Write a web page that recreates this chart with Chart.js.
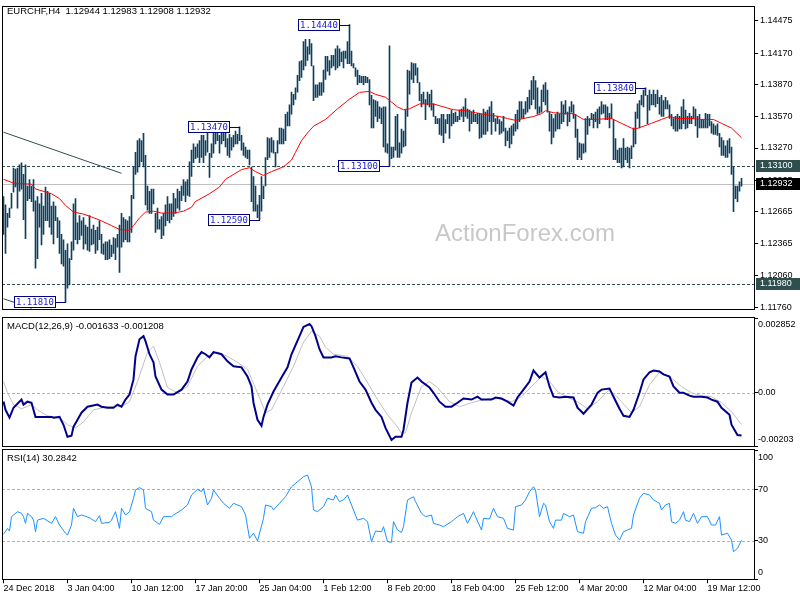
<!DOCTYPE html>
<html>
<head>
<meta charset="utf-8">
<script src="https://cdn.jsdelivr.net/npm/chart.js@4.4.0/dist/chart.umd.min.js"></script>
<style>
  body { margin: 0; background: #fff; }
  #wrap { position: relative; width: 800px; height: 600px; overflow: hidden; }
  canvas { position: absolute; left: 0; }
</style>
</head>
<body>
<div id="wrap">
  <canvas id="price" width="800" height="317" style="top:0"></canvas>
  <canvas id="macd" width="800" height="133" style="top:315px"></canvas>
  <canvas id="rsi" width="800" height="153" style="top:447px"></canvas>
</div>
<script>
// ---- data (EURCHF H4, bar index 0 = 24 Dec 2018 00:00) ----
const highs = [
  1.1281,1.1273,1.1265,1.1270,1.1284,1.1308,1.1307,1.1308,1.1311,1.1313,
  1.1302,1.1311,1.1291,1.1297,1.1291,1.1297,1.1277,1.1281,1.1274,1.1284,
  1.1272,1.1290,1.1286,1.1284,1.1272,1.1276,1.1272,1.1261,1.1258,1.1245,
  1.1240,1.1230,1.1236,1.1222,1.1238,1.1274,1.1279,1.1256,1.1263,1.1258,
  1.1261,1.1254,1.1252,1.1263,1.1250,1.1254,1.1249,1.1252,1.1258,1.1245,
  1.1236,1.1238,1.1238,1.1240,1.1235,1.1242,1.1241,1.1245,1.1254,1.1265,
  1.1261,1.1259,1.1258,1.1262,1.1282,1.1309,1.1323,1.1334,1.1336,1.1334,
  1.1341,1.1320,1.1291,1.1286,1.1288,1.1288,1.1265,1.1270,1.1259,1.1262,
  1.1265,1.1273,1.1281,1.1274,1.1274,1.1284,1.1279,1.1288,1.1286,1.1291,
  1.1297,1.1295,1.1297,1.1314,1.1325,1.1331,1.1328,1.1331,1.1334,1.1339,
  1.1339,1.1334,1.1341,1.1322,1.1331,1.1348,1.1343,1.1346,1.1339,1.1346,
  1.1348,1.1346,1.1336,1.1340,1.1337,1.1339,1.1343,1.1340,1.1347,1.1339,
  1.1332,1.1328,1.1325,1.1325,1.1309,1.1300,1.1291,1.1273,1.1282,1.1300,
  1.1291,1.1318,1.1337,1.1336,1.1337,1.1334,1.1323,1.1334,1.1346,1.1346,
  1.1345,1.1359,1.1361,1.1368,1.1380,1.1378,1.1384,1.1396,1.1409,1.1410,
  1.1428,1.1430,1.1423,1.1430,1.1426,1.1405,1.1387,1.1387,1.1389,1.1389,
  1.1401,1.1414,1.1414,1.1410,1.1415,1.1415,1.1421,1.1424,1.1421,1.1418,
  1.1419,1.1419,1.1428,1.1444,1.1419,1.1407,1.1403,1.1401,1.1396,1.1395,
  1.1395,1.1395,1.1394,1.1392,1.1377,1.1373,1.1372,1.1371,1.1366,1.1365,
  1.1366,1.1366,1.1331,1.1424,1.1328,1.1328,1.1357,1.1359,1.1332,1.1345,
  1.1343,1.1363,1.1401,1.1400,1.1408,1.1407,1.1407,1.1403,1.1389,1.1378,
  1.1380,1.1373,1.1380,1.1378,1.1382,1.1369,1.1357,1.1355,1.1355,1.1359,
  1.1359,1.1354,1.1359,1.1359,1.1363,1.1360,1.1361,1.1357,1.1363,1.1364,
  1.1366,1.1374,1.1364,1.1363,1.1361,1.1363,1.1359,1.1360,1.1360,1.1359,
  1.1364,1.1361,1.1363,1.1366,1.1371,1.1360,1.1355,1.1357,1.1354,1.1352,
  1.1357,1.1346,1.1343,1.1346,1.1348,1.1350,1.1359,1.1363,1.1371,1.1371,
  1.1364,1.1371,1.1375,1.1382,1.1391,1.1395,1.1391,1.1384,1.1366,1.1382,
  1.1387,1.1389,1.1382,1.1361,1.1359,1.1355,1.1359,1.1361,1.1359,1.1371,
  1.1368,1.1372,1.1361,1.1366,1.1371,1.1368,1.1359,1.1345,1.1332,1.1331,
  1.1331,1.1355,1.1357,1.1355,1.1360,1.1359,1.1361,1.1364,1.1366,1.1371,
  1.1368,1.1368,1.1366,1.1360,1.1369,1.1354,1.1336,1.1325,1.1327,1.1327,
  1.1336,1.1327,1.1328,1.1327,1.1329,1.1346,1.1361,1.1369,1.1372,1.1377,
  1.1382,1.1384,1.1377,1.1382,1.1378,1.1382,1.1378,1.1382,1.1375,1.1377,
  1.1372,1.1375,1.1372,1.1368,1.1359,1.1355,1.1357,1.1359,1.1357,1.1366,
  1.1373,1.1363,1.1357,1.1360,1.1357,1.1366,1.1364,1.1357,1.1359,1.1354,
  1.1354,1.1360,1.1359,1.1359,1.1352,1.1350,1.1348,1.1350,1.1341,1.1337,
  1.1334,1.1329,1.1334,1.1336,1.1328,1.1309,1.1291,1.1291,1.1295,1.12983
];
const lows = [
  1.1245,1.1227,1.1252,1.1261,1.1270,1.1285,1.1290,1.1270,1.1286,1.1288,
  1.1259,1.1241,1.1277,1.1279,1.1276,1.1267,1.1213,1.1222,1.1252,1.1235,
  1.1245,1.1258,1.1258,1.1252,1.1245,1.1236,1.1258,1.1242,1.1227,1.1217,
  1.1215,1.1181,1.1194,1.1197,1.1221,1.1230,1.1240,1.1236,1.1240,1.1244,
  1.1231,1.1236,1.1230,1.1229,1.1235,1.1236,1.1227,1.1230,1.1240,1.1227,
  1.1226,1.1221,1.1221,1.1222,1.1224,1.1227,1.1221,1.1233,1.1209,1.1233,
  1.1238,1.1240,1.1238,1.1238,1.1247,1.1279,1.1302,1.1304,1.1309,1.1314,
  1.1309,1.1273,1.1268,1.1265,1.1265,1.1274,1.1247,1.1250,1.1250,1.1241,
  1.1244,1.1253,1.1258,1.1256,1.1259,1.1262,1.1265,1.1270,1.1268,1.1277,
  1.1282,1.1276,1.1282,1.1281,1.1300,1.1313,1.1317,1.1318,1.1313,1.1318,
  1.1313,1.1320,1.1323,1.1299,1.1318,1.1322,1.1331,1.1334,1.1322,1.1331,
  1.1334,1.1328,1.1320,1.1318,1.1325,1.1328,1.1331,1.1331,1.1334,1.1325,
  1.1320,1.1318,1.1317,1.1311,1.1276,1.1267,1.1267,1.1261,1.1259,1.1267,
  1.1279,1.1291,1.1316,1.1318,1.1323,1.1322,1.1309,1.1322,1.1331,1.1331,
  1.1331,1.1334,1.1348,1.1348,1.1359,1.1368,1.1373,1.1380,1.1391,1.1394,
  1.1401,1.1405,1.1410,1.1416,1.1405,1.1372,1.1375,1.1375,1.1377,1.1377,
  1.1380,1.1392,1.1400,1.1396,1.1403,1.1405,1.1401,1.1403,1.1405,1.1409,
  1.1403,1.1412,1.1407,1.1407,1.1405,1.1403,1.1395,1.1387,1.1389,1.1389,
  1.1387,1.1389,1.1389,1.1368,1.1346,1.1346,1.1357,1.1352,1.1355,1.1350,
  1.1328,1.1323,1.1322,1.1310,1.1317,1.1318,1.1325,1.1318,1.1318,1.1322,
  1.1328,1.1329,1.1357,1.1378,1.1392,1.1389,1.1396,1.1389,1.1372,1.1366,
  1.1369,1.1354,1.1368,1.1366,1.1363,1.1357,1.1350,1.1350,1.1340,1.1339,
  1.1332,1.1341,1.1350,1.1336,1.1348,1.1350,1.1352,1.1352,1.1354,1.1357,
  1.1352,1.1357,1.1355,1.1343,1.1350,1.1352,1.1352,1.1350,1.1336,1.1337,
  1.1340,1.1340,1.1343,1.1352,1.1340,1.1352,1.1343,1.1350,1.1340,1.1341,
  1.1343,1.1329,1.1334,1.1327,1.1331,1.1339,1.1343,1.1345,1.1352,1.1355,
  1.1355,1.1359,1.1361,1.1364,1.1368,1.1373,1.1364,1.1359,1.1360,1.1361,
  1.1371,1.1368,1.1361,1.1343,1.1331,1.1337,1.1343,1.1345,1.1345,1.1350,
  1.1352,1.1359,1.1348,1.1352,1.1361,1.1355,1.1337,1.1316,1.1318,1.1316,
  1.1322,1.1323,1.1340,1.1348,1.1354,1.1346,1.1352,1.1346,1.1350,1.1359,
  1.1360,1.1354,1.1354,1.1346,1.1355,1.1316,1.1316,1.1313,1.1313,1.1308,
  1.1309,1.1316,1.1313,1.1308,1.1317,1.1328,1.1331,1.1355,1.1346,1.1368,
  1.1366,1.1377,1.1350,1.1363,1.1368,1.1368,1.1366,1.1369,1.1359,1.1357,
  1.1357,1.1364,1.1364,1.1355,1.1348,1.1345,1.1343,1.1343,1.1345,1.1345,
  1.1350,1.1345,1.1346,1.1350,1.1350,1.1355,1.1348,1.1337,1.1346,1.1346,
  1.1346,1.1346,1.1346,1.1348,1.1341,1.1340,1.1340,1.1339,1.1328,1.1320,
  1.1320,1.1318,1.1318,1.1322,1.1302,1.12665,1.1279,1.1276,1.1286,1.12908
];
// moving average, [bar, value]
const maLine = [
  [0,1.12973],[5,1.12937],[14,1.12927],[16,1.12882],[24,1.12836],[28,1.12790],[31,1.12726],[35,1.12662],
  [40,1.12643],[44,1.12616],[49,1.12579],[54,1.12534],[58,1.12497],[63,1.12488],[65,1.12534],[68,1.12607],
  [71,1.12662],[75,1.12671],[79,1.12653],[85,1.12653],[90,1.12671],[94,1.12708],[96,1.12763],[103,1.12836],
  [108,1.12900],[111,1.12973],[115,1.13019],[119,1.13065],[123,1.13083],[126,1.13046],[130,1.13010],[134,1.13046],
  [140,1.13092],[144,1.13156],[146,1.13230],[149,1.13340],[152,1.13413],[155,1.13477],[161,1.13541],[167,1.13642],
  [173,1.13733],[178,1.13798],[183,1.13807],[186,1.13779],[191,1.13752],[194,1.13706],[197,1.13660],[200,1.13633],
  [203,1.13642],[208,1.13688],[215,1.13688],[220,1.13660],[225,1.13633],[231,1.13624],[236,1.13605],[241,1.13587],
  [248,1.13569],[252,1.13550],[256,1.13532],[260,1.13550],[265,1.13569],[269,1.13596],[271,1.13624],[275,1.13605],
  [280,1.13596],[285,1.13596],[290,1.13541],[295,1.13541],[304,1.13550],[309,1.13504],[314,1.13459],[316,1.13450],
  [320,1.13477],[324,1.13504],[329,1.13541],[333,1.13569],[337,1.13550],[344,1.13550],[349,1.13541],[355,1.13541],
  [359,1.13504],[364,1.13459],[369,1.13367]
];
const trendUpper = [[0,1.1342],[59,1.1303]];
const trendLower = [[0,1.1184],[14,1.1175]];
const priceTicks = [1.14475,1.14170,1.13870,1.13570,1.13270,1.12965,1.12665,1.12365,1.12060,1.11760];
const levelPrices = [1.13100, 1.11980];
const lastPrice = 1.12932;
const markerBars = [173, 118, 193, 128, 31, 321];
const markerPrices = [1.14440, 1.13470, 1.13100, 1.12590, 1.11810, 1.13840];

const macdMain = [
  [0,-0.00033],[1,-0.00065],[3,-0.00095],[5,-0.00057],[9,-0.00026],[10,-0.00045],[12,-0.00034],[14,-0.00038],
  [16,-0.00092],[19,-0.00092],[24,-0.00092],[25,-0.00095],[28,-0.00092],[30,-0.00122],[32,-0.00168],[34,-0.00164],
  [35,-0.00130],[39,-0.00076],[42,-0.00053],[47,-0.00045],[49,-0.00053],[52,-0.00057],[55,-0.00057],[57,-0.00045],
  [59,-0.00053],[61,-0.00026],[63,-0.00007],[65,0.00051],[66,0.00139],[68,0.00204],[70,0.00216],[71,0.00197],
  [73,0.00147],[75,0.00116],[76,0.00062],[79,0.00012],[82,-0.00007],[85,-0.00007],[89,0.00012],[92,0.00043],
  [94,0.00089],[97,0.00135],[99,0.00155],[101,0.00147],[103,0.00135],[105,0.00155],[109,0.00147],[112,0.00120],
  [115,0.00101],[119,0.00097],[122,0.00062],[124,0.00024],[125,-0.00038],[127,-0.00103],[129,-0.00126],[130,-0.00092],
  [132,-0.00045],[135,0.00005],[139,0.00058],[142,0.00097],[144,0.00147],[148,0.00216],[150,0.00251],[153,0.00262],
  [154,0.00254],[156,0.00216],[158,0.00166],[160,0.00135],[164,0.00135],[166,0.00139],[169,0.00135],[173,0.00131],
  [175,0.00097],[178,0.00043],[181,0.00012],[184,-0.00038],[186,-0.00065],[189,-0.00092],[191,-0.00134],[194,-0.00180],
  [196,-0.00168],[199,-0.00168],[200,-0.00141],[202,-0.00038],[204,0.00039],[207,0.00058],[209,0.00043],[213,0.00020],
  [215,0],[218,-0.00034],[221,-0.00053],[224,-0.00053],[227,-0.00038],[230,-0.00022],[234,-0.00026],[237,-0.00015],
  [239,-0.00026],[244,-0.00026],[246,-0.00018],[249,-0.00022],[252,-0.00034],[255,-0.00049],[257,-0.00018],[260,0.00012],
  [263,0.00043],[265,0.00085],[268,0.00058],[271,0.00078],[273,0.00024],[275,-0.00015],[278,-0.00018],[281,-0.00015],
  [285,-0.00018],[287,-0.00057],[290,-0.00080],[294,-0.00045],[297,0],[299,0.00012],[303,0.00016],[305,-0.00015],
  [308,-0.00061],[310,-0.00088],[313,-0.00092],[315,-0.00065],[318,0],[320,0.00051],[323,0.00078],[325,0.00085],
  [328,0.00081],[330,0.00070],[333,0.00062],[335,0.00024],[338,0],[340,0],[343,-0.00011],[345,-0.00015],
  [349,-0.00015],[352,-0.00018],[354,-0.00026],[357,-0.00034],[359,-0.00057],[363,-0.00084],[364,-0.00122],[367,-0.00161],
  [369,-0.001633]
];
const macdSignal = [
  [0,0.00043],[2,0],[5,-0.00045],[9,-0.00061],[14,-0.00045],[17,-0.00065],[22,-0.00088],[28,-0.00095],
  [32,-0.00122],[36,-0.00134],[40,-0.00111],[45,-0.00065],[52,-0.00053],[59,-0.00053],[63,-0.00034],[67,0.00043],
  [72,0.00155],[75,0.00178],[78,0.00116],[82,0.00020],[87,0],[92,0.00024],[97,0.00101],[102,0.00139],
  [107,0.00155],[112,0.00139],[117,0.00116],[122,0.00089],[127,0],[131,-0.00076],[134,-0.00065],[140,0.00024],
  [145,0.00101],[150,0.00193],[154,0.00235],[158,0.00216],[161,0.00174],[165,0.00147],[172,0.00139],[177,0.00101],
  [182,0.00039],[187,-0.00026],[192,-0.00084],[197,-0.00130],[199,-0.00155],[201,-0.00153],[204,-0.00076],[209,0.00024],
  [213,0.00043],[217,0.00020],[223,-0.00034],[228,-0.00053],[234,-0.00038],[240,-0.00026],[247,-0.00022],[254,-0.00034],
  [259,-0.00015],[264,0.00024],[269,0.00062],[273,0.00043],[277,0.00005],[282,-0.00018],[287,-0.00034],[292,-0.00061],
  [297,-0.00034],[303,0.00012],[309,-0.00034],[314,-0.00076],[318,-0.00053],[323,0.00031],[328,0.00078],[333,0.00062],
  [339,0.00024],[344,0],[349,-0.00011],[354,-0.00015],[359,-0.00038],[364,-0.00072],[369,-0.001208]
];
const macdTicks = [0.002852, 0, -0.00203];

const rsiLine = [
  [0,35],[2,39.6],[3,37.5],[4,48.7],[7,52.6],[9,51.3],[10,48.7],[11,43.5],[12,51.3],[14,48.7],[15,46],[16,37],
  [17,46],[20,47.4],[24,43.5],[26,48.7],[28,42.2],[31,35.8],[32,34.4],[34,42.2],[35,55.2],[37,48.7],[39,50],[43,47.9],
  [46,44.8],[48,49.5],[49,43.5],[53,44.3],[54,46],[56,52.6],[58,39.6],[59,55.2],[61,50],[63,52.6],[65,63],[66,69.5],
  [68,71.3],[70,69.5],[71,55.2],[74,52.6],[75,46],[78,42.7],[80,48.7],[84,48.7],[85,50],[89,53.9],[92,57.8],[94,65.6],
  [97,70],[99,68.1],[100,70.8],[102,57.8],[104,63],[105,69.5],[108,63],[110,59.1],[113,55.2],[115,59.1],[119,56.5],[121,50],
  [123,31.9],[125,35.8],[127,29.8],[130,47.4],[131,57.8],[134,56.5],[135,53.9],[138,59.1],[141,64.2],[144,72],[147,75.9],[150,79.8],
  [152,81.1],[154,72],[155,53.9],[157,52.6],[160,56.5],[162,63],[165,61.7],[166,65.6],[168,60.4],[170,61.7],[172,65.6],[175,53.9],
  [177,46],[180,47.4],[182,44.8],[184,29.2],[186,37.5],[189,37],[190,40.9],[192,29.2],[194,28.8],[195,44.8],[197,38.3],[199,36.5],
  [200,40.9],[202,61.7],[205,64.2],[206,60.4],[209,51.3],[211,48.7],[214,50],[215,43.5],[218,42.2],[220,40.9],[224,44.8],[227,48.7],
  [230,51.3],[232,43.5],[235,52.6],[236,48.7],[239,38.3],[240,47.4],[243,46.9],[245,55.2],[247,48.7],[250,47.4],[252,39.6],[255,38.3],
  [256,56.5],[259,57.8],[261,61.7],[263,68.1],[265,72],[266,69.5],[268,48.7],[270,59.1],[271,57.8],[273,44.8],[275,39.6],[276,46],
  [279,46],[280,51.3],[283,48.7],[285,50],[287,37],[290,35.8],[291,44.8],[294,55.2],[296,55.7],[298,57.8],[300,55.2],[302,56.5],
  [304,43.5],[306,34.4],[308,30.5],[310,37],[312,38.3],[314,39.6],[315,50],[318,63],[320,66.9],[323,65.6],[325,61.7],[328,59.1],
  [329,53.9],[331,57.8],[333,59.1],[334,44.8],[336,43.5],[338,46],[340,52.6],[341,46],[343,44.8],[345,51.3],[347,43.5],[349,48.7],
  [352,48.7],[354,42.2],[356,42.2],[358,48.7],[359,34.4],[362,35.8],[364,30.5],[365,21.4],[367,24.1],[369,30.28]
];
const rsiTicks = [100, 70, 30, 0];
const rsiLevels = [70, 30];

const xTickBars = [0,32,64,96,128,160,192,224,256,288,320,352];
const xLabels = ['24 Dec 2018','3 Jan 04:00','10 Jan 12:00','17 Jan 20:00','25 Jan 04:00','1 Feb 12:00',
                 '8 Feb 20:00','18 Feb 04:00','25 Feb 12:00','4 Mar 20:00','12 Mar 04:00','19 Mar 12:00'];

// ---- drawing ----
const FONT = '"Liberation Sans", Arial, sans-serif';
const BAR_COLOR = '#0f3f5e';
const X_MIN = -0.75, X_MAX = 375.25;
Chart.defaults.font.family = FONT;

const toXY = arr => arr.map(p => ({ x: p[0], y: p[1] }));

function hline(ctx, a, py) {
  ctx.beginPath();
  ctx.moveTo(a.left, py);
  ctx.lineTo(a.right, py);
  ctx.stroke();
}

function drawFrame(chart) {
  const { ctx, chartArea: a } = chart;
  ctx.save();
  ctx.strokeStyle = '#000';
  ctx.lineWidth = 1;
  const top = Math.floor(a.top) - 0.5, bottom = Math.floor(a.bottom) + 0.5;
  ctx.strokeRect(Math.floor(a.left) + 0.5, top, Math.round(a.right) - Math.floor(a.left), bottom - top);
  ctx.restore();
}

const pricePanel = {
  id: 'pricePanel',
  beforeDatasetsDraw(chart) {
    const { ctx, chartArea: a, scales: { y } } = chart;
    ctx.save();
    ctx.fillStyle = '#c8c8c8';
    ctx.font = '24px ' + FONT;
    ctx.textAlign = 'center';
    ctx.textBaseline = 'middle';
    ctx.fillText('ActionForex.com', 525, 234);
    ctx.lineWidth = 1;
    ctx.strokeStyle = '#c0c0c0';
    hline(ctx, a, Math.round(y.getPixelForValue(lastPrice)) + 0.5);
    ctx.strokeStyle = '#2f4f4f';
    ctx.setLineDash([3, 2]);
    levelPrices.forEach(v => hline(ctx, a, Math.round(y.getPixelForValue(v)) + 0.5));
    ctx.restore();
  },
  afterDatasetsDraw(chart) {
    const { ctx, scales: { x, y } } = chart;
    ctx.save();
    ctx.font = '9px "DejaVu Sans Mono", monospace';
    ctx.textBaseline = 'middle';
    ctx.textAlign = 'left';
    markerBars.forEach((b, i) => {
      const px = Math.round(x.getPixelForValue(b));
      const py = Math.round(y.getPixelForValue(markerPrices[i]));
      const right = px - 10, left = right - 42;
      ctx.strokeStyle = '#000080';
      ctx.lineWidth = 1;
      ctx.beginPath();
      ctx.moveTo(right, py + 0.5);
      ctx.lineTo(px, py + 0.5);
      ctx.stroke();
      ctx.fillStyle = '#fff';
      ctx.fillRect(left, py - 6, 42, 12);
      ctx.strokeRect(left + 0.5, py - 5.5, 41, 11);
      ctx.fillStyle = '#1a1ad0';
      ctx.fillText(markerPrices[i].toFixed(5), left + 2, py + 0.5);
    });
    ctx.restore();
  },
  afterDraw(chart) {
    const { ctx, chartArea: a, scales: { y } } = chart;
    drawFrame(chart);
    ctx.save();
    ctx.fillStyle = '#000';
    ctx.font = '9.5px ' + FONT;
    ctx.textBaseline = 'middle';
    ctx.fillText('EURCHF,H4  1.12944 1.12983 1.12908 1.12932', 7, 11);
    const boxes = [[levelPrices[0], '#2f4f4f'], [lastPrice, '#000'], [levelPrices[1], '#2f4f4f']];
    ctx.font = '9px ' + FONT;
    boxes.forEach(([v, bg]) => {
      const py = Math.round(y.getPixelForValue(v));
      ctx.fillStyle = bg;
      ctx.fillRect(a.right + 2, py - 6, 800 - a.right - 2, 12);
      ctx.fillStyle = '#fff';
      ctx.fillText(v.toFixed(5), a.right + 6, py);
    });
    ctx.restore();
  }
};

const subPanel = {
  id: 'subPanel',
  beforeDatasetsDraw(chart, args, opts) {
    const { ctx, chartArea: a, scales: { y } } = chart;
    ctx.save();
    ctx.strokeStyle = '#b4b4b4';
    ctx.lineWidth = 1;
    ctx.setLineDash([3, 2]);
    opts.levels.forEach(v => hline(ctx, a, Math.round(y.getPixelForValue(v)) + 0.5));
    ctx.restore();
  },
  afterDraw(chart, args, opts) {
    const { ctx, chartArea: a, scales: { y } } = chart;
    drawFrame(chart);
    ctx.save();
    ctx.fillStyle = '#000';
    ctx.textBaseline = 'middle';
    ctx.font = '9.5px ' + FONT;
    ctx.fillText(opts.title, 7, a.top + 8);
    ctx.font = '9px ' + FONT;
    opts.ticks.forEach(v => {
      let py = y.getPixelForValue(v);
      py = Math.min(Math.max(py, a.top + 6.5), a.bottom - 6.5);
      ctx.fillText(opts.format(v), a.right + 4, py);
    });
    ctx.restore();
  }
};

const common = {
  responsive: false,
  animation: false,
  events: [],
  plugins: { legend: { display: false }, tooltip: { enabled: false } }
};

function rightAxis(min, max, ticks) {
  return {
    position: 'right', min, max, beginAtZero: false,
    afterFit(s) { s.width = 46; },
    afterBuildTicks(s) { s.ticks = ticks.map(v => ({ value: v })); },
    grid: { drawOnChartArea: false, tickLength: 4, color: '#000' },
    border: { color: '#000' }
  };
}

// price panel
const priceY = rightAxis(1.11737, 1.14604, priceTicks);
priceY.ticks = { autoSkip: false, padding: 2, color: '#000', font: { size: 9 }, callback: v => v.toFixed(5) };
new Chart(document.getElementById('price'), {
  type: 'bar',
  data: {
    datasets: [
      { type: 'line', data: toXY(maLine), borderColor: '#ff0000', borderWidth: 1, pointRadius: 0, order: 1 },
      { type: 'line', data: toXY(trendUpper), borderColor: '#2f4f4f', borderWidth: 1, pointRadius: 0, order: 1 },
      { type: 'line', data: toXY(trendLower), borderColor: '#2f4f4f', borderWidth: 1, pointRadius: 0, order: 1 },
      { type: 'bar', data: highs.map((h, i) => ({ x: i, y: [lows[i], h] })), backgroundColor: BAR_COLOR,
        barThickness: 1, borderWidth: 0, order: 2 }
    ]
  },
  options: {
    ...common,
    layout: { padding: { left: 2, top: 2, right: 0, bottom: 2 } },
    scales: {
      x: { type: 'linear', min: X_MIN, max: X_MAX, offset: false, display: false },
      y: priceY
    }
  },
  plugins: [pricePanel]
});

// MACD panel
const macdY = rightAxis(-0.00203, 0.002852, macdTicks);
macdY.ticks = { display: false };
new Chart(document.getElementById('macd'), {
  type: 'line',
  data: {
    datasets: [
      { data: toXY(macdMain), borderColor: '#00008b', borderWidth: 2, pointRadius: 0, order: 1 },
      { data: toXY(macdSignal), borderColor: '#c0c0c0', borderWidth: 1, pointRadius: 0, order: 2 }
    ]
  },
  options: {
    ...common,
    layout: { padding: { left: 2, top: 3, right: 0, bottom: 2 } },
    scales: {
      x: { type: 'linear', min: X_MIN, max: X_MAX, display: false },
      y: macdY
    },
    plugins: {
      ...common.plugins,
      subPanel: {
        title: 'MACD(12,26,9) -0.001633 -0.001208',
        levels: [0],
        ticks: macdTicks,
        format: v => v === 0 ? '0.00' : (v > 0 ? v.toFixed(6) : v.toFixed(5))
      }
    }
  },
  plugins: [subPanel]
});

// RSI panel
const rsiY = rightAxis(0, 100, rsiTicks);
rsiY.ticks = { display: false };
new Chart(document.getElementById('rsi'), {
  type: 'line',
  data: {
    datasets: [
      { data: toXY(rsiLine), borderColor: '#1e90ff', borderWidth: 1, pointRadius: 0 }
    ]
  },
  options: {
    ...common,
    layout: { padding: { left: 2, top: 3.75, right: 0, bottom: 0 } },
    scales: {
      x: {
        type: 'linear', min: X_MIN, max: X_MAX, position: 'bottom',
        afterFit(s) { s.height = 20.75; },
        afterBuildTicks(s) { s.ticks = xTickBars.map(v => ({ value: v })); },
        ticks: { autoSkip: false, maxRotation: 0, align: 'start', padding: 0, color: '#000', font: { size: 9 },
                 callback: (v, i) => xLabels[i] },
        grid: { drawOnChartArea: false, tickLength: 4, color: '#000' },
        border: { display: false }
      },
      y: rsiY
    },
    plugins: {
      ...common.plugins,
      subPanel: { title: 'RSI(14) 30.2842', levels: rsiLevels, ticks: rsiTicks, format: v => String(v) }
    }
  },
  plugins: [subPanel]
});
</script>
</body>
</html>
